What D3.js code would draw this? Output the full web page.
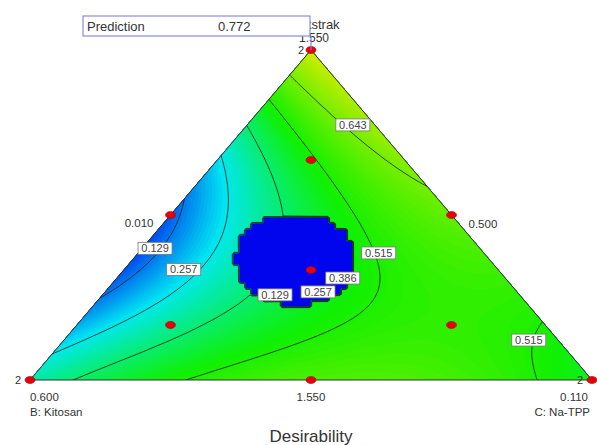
<!DOCTYPE html>
<html>
<head>
<meta charset="utf-8">
<script src="https://cdn.jsdelivr.net/npm/d3@7"></script>
<style>
  body { margin: 0; background: #fff; }
  svg { font-family: "Liberation Sans", Arial, sans-serif; }
</style>
</head>
<body>
<div id="chart"></div>
<script>
// mixture components: A top, B bottom left, C bottom right
const componentNames = ["A: Ekstrak", "B: Kitosan", "C: Na-TPP"];
const vertexTicks = ["1.550", "0.600", "0.110"];
const edgeTicks = ["0.010", "0.500", "1.550"];   // AB edge, AC edge, BC edge

// Scheffe model for desirability, coefficients
const linearTerms = [0.772, 0.32, 0.46];   // A, B, C
const binaryTerms = [-1.78, 0.0, 0.78];    // AB, AC, BC
const quarticAB = 0.6;                     // AB(A-B)^2
const ternaryABC = 0.95;                   // ABC

// patch where desirability is 0 (blue blob)
const zeroCenter = [0.362, 0.345, 0.293];
const zeroRadius = [0.137, 0.107];         // vertical (A), horizontal
const zeroShape = 2.15;                    // superellipse exponent

const contourLevels = [0.129, 0.257, 0.386, 0.515, 0.643];
const labelText = ["0.643", "0.515", "0.386", "0.257", "0.129", "0.129", "0.257", "0.515"];
const labelAt = [[0.773, 0.039, 0.188], [0.385, 0.187, 0.428], [0.309, 0.289, 0.402], [0.267, 0.354, 0.379],
                 [0.258, 0.435, 0.307], [0.399, 0.578, 0.023], [0.335, 0.559, 0.106], [0.121, 0.052, 0.827]];

const designPoints = [[1,0,0],[0,1,0],[0,0,1],[0.5,0.5,0],[0.5,0,0.5],[0,0.5,0.5],
                      [1/3,1/3,1/3],[2/3,1/6,1/6],[1/6,2/3,1/6],[1/6,1/6,2/3]];
const replicates = [2, 2, 2, 1, 1, 1, 1, 1, 1, 1];
const prediction = 0.772;

const W = 597, H = 445;
const svg = d3.select('#chart').append('svg')
    .attr('width', W).attr('height', H);

const x = d3.scaleLinear().domain([0, 1]).range([30, 592]);
const y = d3.scaleLinear().domain([0, 1]).range([380, 50]);
const px = p => x(p[2] + p[0] / 2);
const py = p => y(p[0]);
function toMix(sx, sy) {
    const a = y.invert(sy);
    const c = x.invert(sx) - a / 2;
    return [a, 1 - a - c, c];
}

function desirability(a, b, c) {
    const [bA, bB, bC] = linearTerms, [bAB, bAC, bBC] = binaryTerms;
    const d = bA*a + bB*b + bC*c + a*b*(bAB + quarticAB*(a-b)*(a-b)) + bAC*a*c + bBC*b*c + ternaryABC*a*b*c;
    return Math.max(0, Math.min(1, d));
}
const h0 = zeroCenter[2] + zeroCenter[0] / 2;
function inZero(a, c) {
    const dv = Math.abs(a - zeroCenter[0]) / zeroRadius[0];
    const dh = Math.abs(c + a / 2 - h0) / zeroRadius[1];
    return Math.pow(dv, zeroShape) + Math.pow(dh, zeroShape) <= 1;
}

// sample grid in screen space
const step = 2, cell = 6;
const x0 = 26, y0 = 46;
const nx = Math.ceil((596 - x0) / step) + 1, ny = Math.ceil((384 - y0) / step) + 1;
const values = new Array(nx * ny);
for (let j = 0; j < ny; j++) {
    for (let i = 0; i < nx; i++) {
        const sx = x0 + i * step, sy = y0 + j * step;
        const [a, b, c] = toMix(sx, sy);
        // zero patch is drawn on a coarser cell grid, like the original
        const cx = 30 + (Math.floor((sx - 30) / cell) + 0.5) * cell;
        const cy = 50 + (Math.floor((sy - 50) / cell) + 0.5) * cell;
        const m = toMix(cx, cy);
        values[i + j * nx] = inZero(m[0], m[2]) ? 0 : desirability(a, b, c);
    }
}

const gridPath = d3.geoPath(d3.geoTransform({
    point: function (gx, gy) { this.stream.point(x0 + (gx - 0.5) * step, y0 + (gy - 0.5) * step); }
}));

const color = d3.scaleLinear()
    .domain([0, 0.25, 0.5, 0.8, 1])
    .range(["#0000ee", "#00e8f0", "#10f000", "#e4ec00", "#f00000"])
    .clamp(true);

const corners = [[1,0,0],[0,1,0],[0,0,1]];
svg.append('defs').append('clipPath').attr('id', 'tri')
    .append('polygon')
    .attr('points', corners.map(p => px(p) + ',' + py(p)).join(' '));

const field = svg.append('g').attr('clip-path', 'url(#tri)');
const bands = d3.contours().size([nx, ny]).thresholds(d3.range(0, 0.8, 0.01))(values);
field.selectAll('path.band')
    .data(bands)
    .join('path')
    .attr('class', 'band')
    .attr('d', gridPath)
    .attr('fill', d => color(d.value + 0.005));

const lines = d3.contours().size([nx, ny]).thresholds(contourLevels)(values);
field.selectAll('path.iso')
    .data(lines)
    .join('path')
    .attr('class', 'iso')
    .attr('d', gridPath)
    .attr('fill', 'none')
    .attr('stroke', '#152015')
    .attr('stroke-width', 0.8);

svg.append('polygon')
    .attr('points', corners.map(p => px(p) + ',' + py(p)).join(' '))
    .attr('fill', 'none')
    .attr('stroke', '#333')
    .attr('stroke-width', 1);

// contour labels
const lab = svg.selectAll('g.lab')
    .data(labelText)
    .join('g')
    .attr('class', 'lab')
    .attr('transform', (d, i) => `translate(${px(labelAt[i])},${py(labelAt[i])})`);
lab.append('rect')
    .attr('x', -17).attr('y', -6).attr('width', 34).attr('height', 12)
    .attr('fill', '#fff').attr('stroke', '#777').attr('stroke-width', 0.8);
lab.append('text')
    .attr('text-anchor', 'middle').attr('y', 4)
    .attr('font-size', 11).attr('fill', '#444')
    .text(d => d);

// design points
svg.selectAll('ellipse.pt')
    .data(designPoints)
    .join('ellipse')
    .attr('class', 'pt')
    .attr('cx', px).attr('cy', py)
    .attr('rx', 5).attr('ry', 3.5)
    .attr('fill', '#e8000a').attr('stroke', '#a00000').attr('stroke-width', 0.6);

svg.selectAll('text.rep')
    .data(designPoints.filter((p, i) => replicates[i] > 1))
    .join('text')
    .attr('class', 'rep')
    .attr('x', (p, i) => px(p) - (i === 0 ? 7 : 9))
    .attr('y', (p, i) => py(p) + 4)
    .attr('text-anchor', 'end')
    .attr('font-size', 11).attr('fill', '#333')
    .text((p, i) => replicates[i]);

// axis texts
const txt = (sx, sy, s, anchor, size) => svg.append('text')
    .attr('x', sx).attr('y', sy).attr('text-anchor', anchor || 'start')
    .attr('font-size', size || 11.5).attr('fill', '#333').text(s);

txt(px(corners[0]) - 1, py(corners[0]) - 21, componentNames[0], 'middle', 13);
txt(px(corners[0]) + 3, py(corners[0]) - 8, vertexTicks[0], 'middle', 12);
txt(px(corners[1]), py(corners[1]) + 21, vertexTicks[1]);
txt(px(corners[1]), py(corners[1]) + 36, componentNames[1]);
txt(px(corners[2]) - 4, py(corners[2]) + 21, vertexTicks[2], 'end');
txt(px(corners[2]) - 2, py(corners[2]) + 36, componentNames[2], 'end');
const mAB = [0.5, 0.5, 0], mAC = [0.5, 0, 0.5], mBC = [0, 0.5, 0.5];
txt(px(mAB) - 17, py(mAB) + 12, edgeTicks[0], 'end');
txt(px(mAC) + 17, py(mAC) + 13, edgeTicks[1]);
txt(px(mBC), py(mBC) + 21, edgeTicks[2], 'middle');
txt(x(0.5), 442, 'Desirability', 'middle', 17);

// prediction flag
svg.append('line')
    .attr('x1', px(corners[0])).attr('x2', px(corners[0]))
    .attr('y1', 36).attr('y2', py(corners[0]))
    .attr('stroke', '#8080e0').attr('stroke-width', 1.2);
svg.append('rect')
    .attr('x', 83).attr('y', 16).attr('width', 227).attr('height', 20)
    .attr('fill', '#fff').attr('stroke', '#8c8cdc').attr('stroke-width', 1.2);
txt(87, 31, 'Prediction', 'start', 13);
txt(218, 31, prediction.toFixed(3), 'start', 13);
</script>
</body>
</html>
